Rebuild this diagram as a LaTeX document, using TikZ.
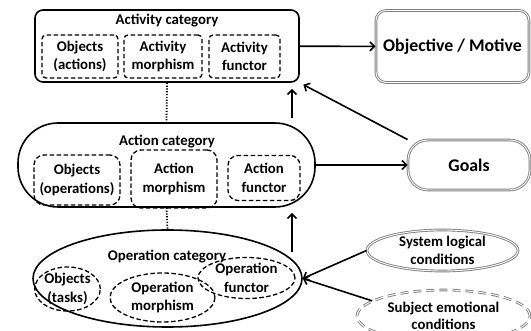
\documentclass[tikz,border=0pt]{standalone}
\usepackage{fontspec}
\setmainfont{Carlito}
\usetikzlibrary{arrows.meta,shapes.geometric}
\tikzset{
  cat/.style={draw,line width=1.6pt,align=center},
  part/.style={draw,line width=1.3pt,dash pattern=on 4.5pt off 2.5pt,align=center,inner sep=1pt},
  goalbox/.style={draw=gray,double,double distance=0.9pt,line width=0.9pt,align=center},
  arr/.style={-{Straight Barb[length=4.5pt,width=9pt]},line width=1.6pt},
  dots/.style={line width=1.8pt,dash pattern=on 1.2pt off 1.6pt}
}
\begin{document}
\begin{tikzpicture}[every node/.style={font=\bfseries\fontsize{14.8}{18.5}\selectfont}]
        \useasboundingbox (0pt,0pt) rectangle (531pt,-331pt);
        % activity level
        \node[cat,rounded corners=8pt,minimum width=264pt,minimum height=72pt] (act) at (167pt,-46pt) {};
        \node (actT) at (167pt,-21pt) {Activity category};
        \node[part,rounded corners=4pt,minimum width=76pt,minimum height=43pt] (actO) at (80pt,-56.5pt) {Objects\\(actions)};
        \node[part,rounded corners=4pt,minimum width=78pt,minimum height=43pt] (actM) at (163pt,-56.5pt) {Activity\\morphism};
        \node[part,rounded corners=4pt,minimum width=71pt,minimum height=43pt] (actF) at (244.5pt,-56.5pt) {Activity\\functor};
        \node[goalbox,rounded corners=10pt,minimum width=153pt,minimum height=72pt,font=\bfseries\fontsize{17.8}{21}\selectfont] (obj) at (452.5pt,-46.5pt) {Objective / Motive};
        
        % action level
        \node[cat,rounded corners=40pt,minimum width=297pt,minimum height=84pt] (action) at (166.5pt,-165pt) {};
        \node (actionT) at (167pt,-142pt) {Action category};
        \node[part,rounded corners=10pt,minimum width=86pt,minimum height=50pt] (actionO) at (77pt,-180pt) {Objects\\(operations)};
        \node[part,rounded corners=10pt,minimum width=86pt,minimum height=58pt] (actionM) at (174pt,-179pt) {Action\\morphism};
        \node[part,rounded corners=10pt,minimum width=72pt,minimum height=45pt] (actionF) at (264pt,-178pt) {Action\\functor};
        \node[goalbox,rounded corners=20pt,minimum width=122pt,minimum height=50pt,font=\bfseries\fontsize{17.8}{21}\selectfont] (goals) at (469pt,-165pt) {Goals};
        
        % operation level
        \node[cat,ellipse,minimum width=269pt,minimum height=97pt] (op) at (167.5pt,-278.5pt) {};
        \node (opT) at (167pt,-257pt) {Operation category};
        \node[part,ellipse,inner sep=0pt,minimum width=61pt,minimum height=43pt] (opO) at (67.5pt,-289pt) {Objects\\(tasks)};
        \node[part,ellipse,inner sep=0pt,minimum width=105pt,minimum height=49pt] (opM) at (162.5pt,-297.5pt) {Operation\\morphism};
        \node[part,ellipse,inner sep=0pt,minimum width=97pt,minimum height=40pt] (opF) at (246.5pt,-278pt) {Operation\\functor};
        
        \node[goalbox,ellipse,inner sep=0pt,minimum width=151pt,minimum height=35pt] (sys) at (442.5pt,-250.5pt) {System logical\\conditions};
        \node[goalbox,ellipse,dash pattern=on 8pt off 5pt,inner sep=0pt,minimum width=173pt,minimum height=52pt,font=\bfseries\fontsize{14.8}{16.5}\selectfont] (subj) at (443.5pt,-316pt) {Subject emotional\\conditions};
        
        % connectors
        \draw[arr] (act) -- (obj);
        \draw[arr] (action) -- (goals);
        \draw[arr,shorten >=4pt] (goals.north west) -- (act.south east);
        \draw[dots] (act.south) -- (action.north);
        \draw[dots] (action.south) -- (op.north);
        
        \coordinate (up1) at (292pt,-118pt);
        \draw[arr,shorten >=6pt] (up1) -- (up1 |- act.south);
        \coordinate (up2) at (292pt,-252pt);
        \draw[arr,shorten >=5pt] (up2) -- (up2 |- action.south);
        
        \draw[arr] (sys.west) -- (op.east);
        \draw[arr] (subj.168) -- (op.east);
      \end{tikzpicture}
\end{document}
